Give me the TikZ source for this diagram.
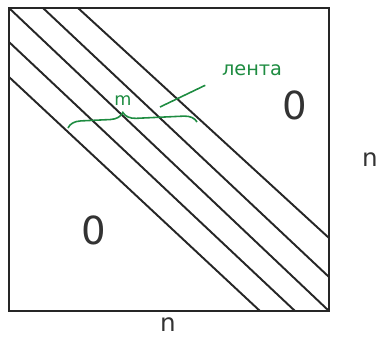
\documentclass[tikz,border=0pt]{standalone}
\usepackage{fontspec}
\setmainfont{DejaVu Sans}
\usetikzlibrary{
    decorations.pathreplacing
}
\definecolor{bandgreen}{RGB}{30,140,65}
\tikzset{
    matrixline/.style={
        line width=1.1pt,
        black!85
    },
    bandnote/.style={
        bandgreen,
        line width=0.9pt
    },
    zerolabel/.style={
        font=\fontsize{22}{22}\selectfont,
        text=black!80
    },
    sizelabel/.style={
        font=\fontsize{14}{14}\selectfont,
        text=black!80
    }
}

\begin{document}
\begin{tikzpicture}[
    x=0.02cm,
    y=-0.02cm
]
    \useasboundingbox (0,0) rectangle (377,338);

    % Esquinas de la matriz
    \coordinate (tl) at (9,8);
    \coordinate (tr) at (329,8);
    \coordinate (br) at (329,311);
    \coordinate (bl) at (9,311);

    % Bordes de la banda
    \coordinate (up1)  at (43,8);   \coordinate (up1e)  at (329,277);
    \coordinate (up2)  at (78,8);   \coordinate (up2e)  at (329,238);
    \coordinate (low1) at (9,42);   \coordinate (low1e) at (295,311);
    \coordinate (low2) at (9,77);   \coordinate (low2e) at (260,311);

    % Matriz y diagonales
    \draw[matrixline] (tl) rectangle (br);
    \draw[matrixline] (tl) -- (br);
    \draw[matrixline] (up1) -- (up1e);
    \draw[matrixline] (up2) -- (up2e);
    \draw[matrixline] (low1) -- (low1e);
    \draw[matrixline] (low2) -- (low2e);

    % Ceros y dimensiones
    \node[zerolabel] (zup)  at (295,105) {0};
    \node[zerolabel] (zlow) at (94,230)  {0};
    \node[sizelabel] (nright)  at (370,160) {n};
    \node[sizelabel, inner sep=1pt] (nbottom) at (168,325) {n};

    % Ancho de la banda
    \coordinate (braceL) at (68,128);
    \coordinate (braceR) at (197,122);
    \draw[bandnote, decorate,
          decoration={brace, amplitude=0.26cm, aspect=0.43}]
        (braceL) -- (braceR);
    \node[bandgreen, font=\fontsize{10}{10}\selectfont] (mlabel) at (123,101) {m};

    % Etiqueta
    \node[bandgreen, font=\fontsize{11}{11}\selectfont] (lenta) at (252,70) {лента};
    \coordinate (bandpt) at (160,107);
    \draw[bandnote] ([xshift=-6pt, yshift=-2pt]lenta.south west) -- (bandpt);

\end{tikzpicture}
\end{document}
